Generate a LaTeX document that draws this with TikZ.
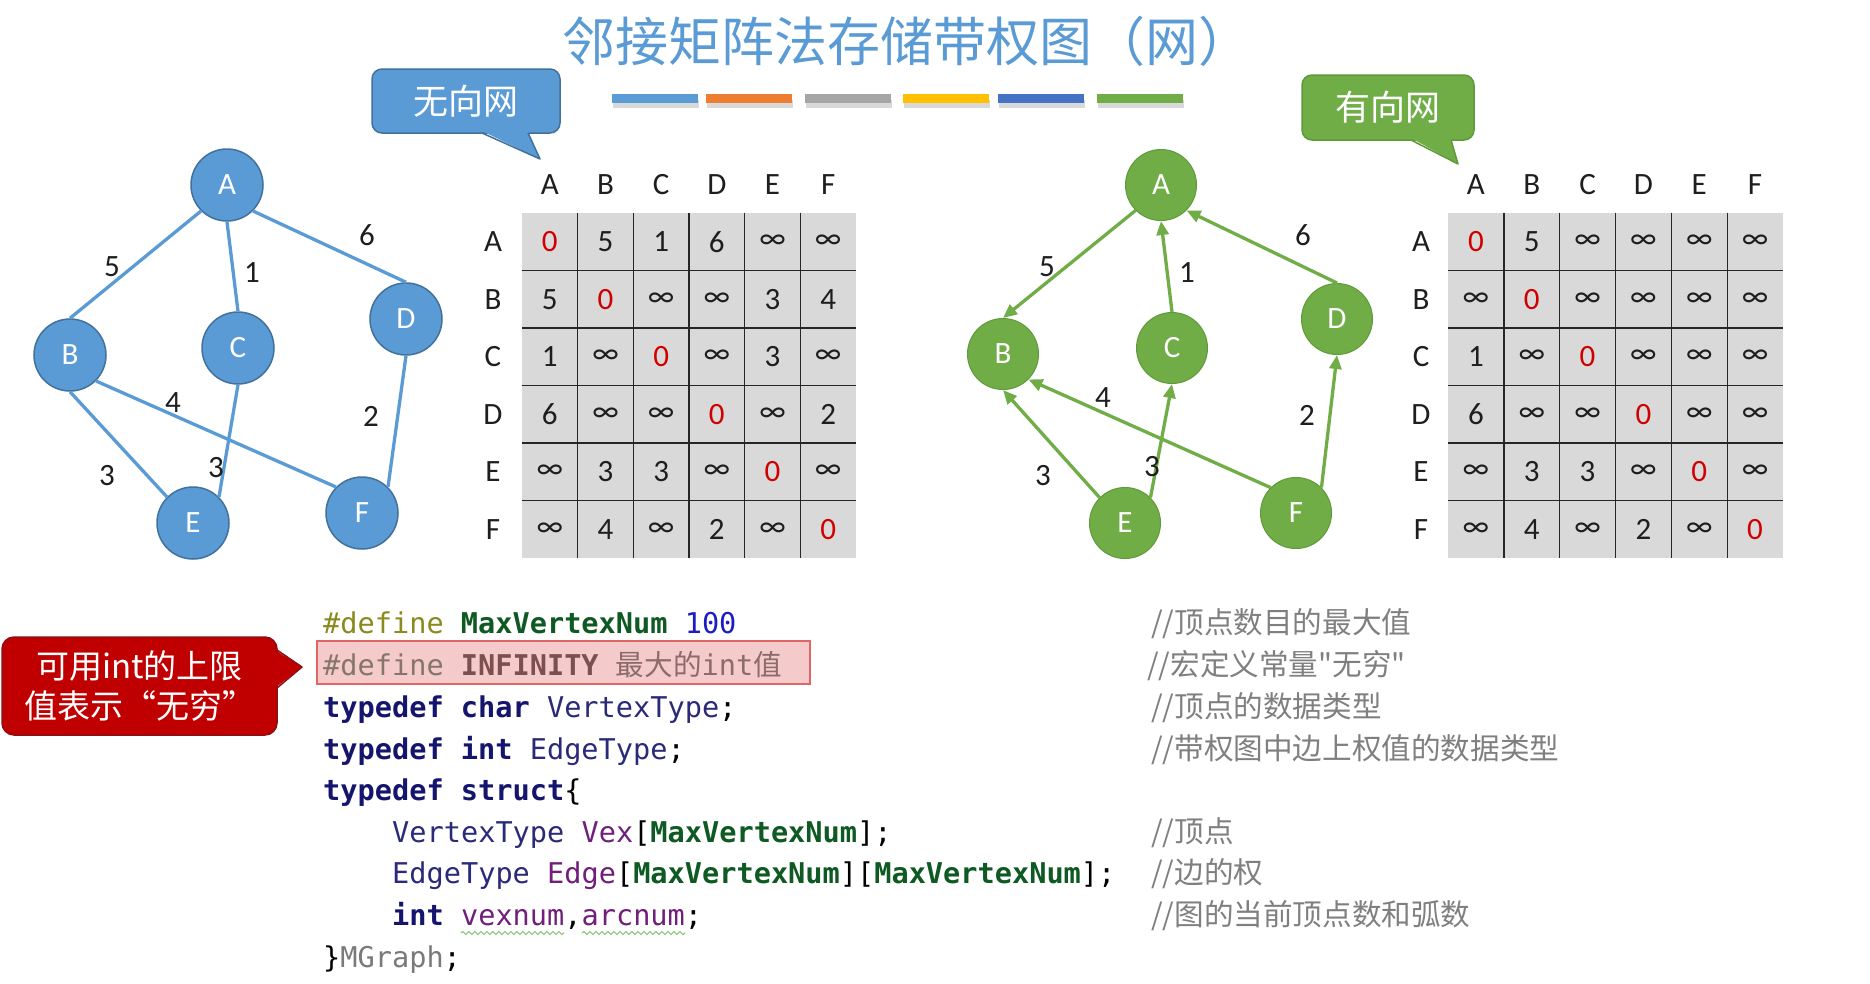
\documentclass[tikz,border=0pt]{standalone}
\usepackage{fontspec}
\setmainfont{Carlito}
\newfontfamily\cjk{Noto Sans CJK SC}
\newfontfamily\monof{DejaVu Sans Mono}
\usetikzlibrary{arrows.meta,decorations.pathmorphing}
\definecolor{titleblue}{HTML}{5B9BD5}
\definecolor{nblue}{HTML}{5B9BD5}
\definecolor{nblueD}{HTML}{41719C}
\definecolor{ngreen}{HTML}{70AD47}
\definecolor{ngreenD}{HTML}{5E9A3A}
\definecolor{calred}{HTML}{C00000}
\definecolor{calredD}{HTML}{8E0E12}
\definecolor{barA}{HTML}{5B9BD5}
\definecolor{barB}{HTML}{ED7D31}
\definecolor{barC}{HTML}{A5A5A5}
\definecolor{barD}{HTML}{FFC000}
\definecolor{barE}{HTML}{4472C4}
\definecolor{barF}{HTML}{70AD47}
\definecolor{cellgray}{HTML}{D9D9D9}
\definecolor{zred}{HTML}{D00000}
\definecolor{cdef}{HTML}{8A8A1E}
\definecolor{cmac}{HTML}{0E5A22}
\definecolor{cnum}{HTML}{1C1CC4}
\definecolor{ckw}{HTML}{15156E}
\definecolor{ctype}{HTML}{2A2A78}
\definecolor{cvar}{HTML}{70207A}
\definecolor{cgray}{HTML}{7A7A7A}
\definecolor{ccmt}{HTML}{7F7F7F}
\definecolor{pinkbox}{HTML}{F4CACA}
\definecolor{redbox}{HTML}{E06666}
\definecolor{dimdef}{HTML}{86766A}
\definecolor{diminf}{HTML}{7D5050}
\definecolor{dimcjk}{HTML}{8C6B6B}
\definecolor{wavyc}{HTML}{8CC87C}
\definecolor{txt}{HTML}{1E1E1E}
\newcommand\zr{\textcolor{zred}{0}}
\newcommand\infy{∞}
\begin{document}
\begin{tikzpicture}[x=1pt,y=-1pt,
  title/.style={inner sep=0pt, text=titleblue, font=\cjk\fontsize{53}{53}\selectfont},
  un/.style={circle, fill=nblue, draw=nblueD, line width=1.5pt, minimum size=72pt, inner sep=0pt, text=white, font=\fontsize{31}{31}\selectfont},
  gn/.style={circle, fill=ngreen, draw=ngreenD, line width=1pt, minimum size=71pt, inner sep=0pt, text=white, font=\fontsize{31}{31}\selectfont},
  ue/.style={draw=nblue, line width=3.3pt},
  de/.style={draw=ngreen, line width=3.3pt, -{Triangle[length=14pt,width=12pt]}},
  elab/.style={inner sep=0pt, text=txt, font=\fontsize{31}{31}\selectfont},
  cell/.style={inner sep=0pt, text=txt, font=\fontsize{31}{31}\selectfont},
  hdr/.style={inner sep=0pt, text=txt, font=\fontsize{31}{31}\selectfont},
  grid/.style={line width=1.3pt, black!85},
  callB/.style={rounded corners=10pt, fill=nblue, draw=nblueD, line width=1.5pt, text=white, font=\cjk\fontsize{35}{35}\selectfont, inner sep=0pt},
  callG/.style={rounded corners=10pt, fill=ngreen, draw=ngreenD, line width=1.5pt, text=white, font=\cjk\fontsize{35}{35}\selectfont, inner sep=0pt},
  callR/.style={rounded corners=12pt, fill=calred, draw=calredD, line width=1.5pt, text=white, font=\cjk\fontsize{33}{40}\selectfont, inner sep=0pt},
  code/.style={anchor=base west, inner sep=0pt, text=black, font=\monof\fontsize{28.6}{28.6}\selectfont},
  cmt/.style={anchor=base west, inner sep=0pt, text=ccmt, font=\cjk\fontsize{29.6}{29.6}\selectfont},
  wavy/.style={draw=wavyc, line width=1.2pt, decorate, decoration={snake, amplitude=1.5pt, segment length=6pt}}
]
\useasboundingbox (0,0) rectangle (1870,983);
\fill[white] (0,0) rectangle (1870,983);

% title
\node[title] (title) at (907,41) {邻接矩阵法存储带权图（网）};

% colour bars
\foreach \xa/\c in {612/barA,706/barB,805/barC,903/barD,998/barE,1097/barF} {
  \fill[black, opacity=0.15] ({\xa+1},100) rectangle ({\xa+87},108);
  \fill[\c] (\xa,94) rectangle ({\xa+86},103);
}

% callouts
\node[callB, minimum width=188pt, minimum height=64pt] (cb) at (466,101) {无向网};
\fill[nblue] (482,131) -- (540,159) -- (528,131) -- cycle;
\draw[nblueD, line width=1.5pt, line join=round] (482,133) -- (540,159) -- (528,133);

\node[callG, minimum width=172pt, minimum height=65pt] (cg) at (1388,107.5) {有向网};
\fill[ngreen] (1411,138) -- (1458,164) -- (1451,138) -- cycle;
\draw[ngreenD, line width=1.5pt, line join=round] (1411,140) -- (1458,164) -- (1451,140);

\node[callR, minimum width=275pt, minimum height=98pt, align=center] (cr) at (139.5,686) {可用int的上限\\值表示“无穷”};
\fill[calred] (275,650) -- (302,667) -- (275,688) -- cycle;
\draw[calredD, line width=1.5pt, line join=round] (277,650) -- (302,667) -- (277,688);

% undirected graph
\node[un] (uA) at (227,185) {A};
\node[un] (uB) at (70,355) {B};
\node[un] (uC) at (238,348) {C};
\node[un] (uD) at (406,319) {D};
\node[un] (uE) at (193,523) {E};
\node[un] (uF) at (362,513) {F};
\draw[ue] (uA.south west) -- (uB.north);
\draw[ue] (uA.south) -- (uC.north);
\draw[ue] (uA.south east) -- (uD.north);
\draw[ue] (uB.south) -- (uE.north west);
\draw[ue] (uB.south east) -- (uF.north west);
\draw[ue] (uC.south) -- (uE.north east);
\draw[ue] (uD.south) -- (uF.north east);
\node[elab] (lu5) at (112,267) {5};
\node[elab] (lu1) at (252,273) {1};
\node[elab] (lu6) at (367,235) {6};
\node[elab] (lu4) at (173,403) {4};
\node[elab] (lu2) at (371,416) {2};
\node[elab] (lu3a) at (107,476) {3};
\node[elab] (lu3b) at (216,468) {3};

% directed graph
\node[gn] (dA) at (1161,185) {A};
\node[gn] (dB) at (1003,354) {B};
\node[gn] (dC) at (1172,348) {C};
\node[gn] (dD) at (1337,319) {D};
\node[gn] (dE) at (1125,523) {E};
\node[gn] (dF) at (1296,513) {F};
\draw[de] (dA.south west) -- (dB.north);
\draw[de] (dC.north) -- (dA.south);
\draw[de] (dD.north) -- (dA.south east);
\draw[de] (dE.north west) -- (dB.south);
\draw[de] (dE.north east) -- (dC.south);
\draw[de] (dF.north west) -- (dB.south east);
\draw[de] (dF.north east) -- (dD.south);
\node[elab] (ld5) at (1047,267) {5};
\node[elab] (ld1) at (1187,273) {1};
\node[elab] (ld6) at (1303,235) {6};
\node[elab] (ld4) at (1103,398) {4};
\node[elab] (ld2) at (1307,415) {2};
\node[elab] (ld3a) at (1043,476) {3};
\node[elab] (ld3b) at (1152,467) {3};

% matrix 1
\fill[cellgray] (522,213) rectangle (856,558);
\foreach \k in {1,...,5} {
  \draw[grid] ({522+\k*55.67},213) -- ({522+\k*55.67},558);
  \draw[grid] (522,{213+\k*57.5}) -- (856,{213+\k*57.5});
}
\foreach \L [count=\j] in {A,B,C,D,E,F} {
  \node[hdr] (mah\j) at ({522+(\j-0.5)*55.67},185) {\L};
  \node[hdr] (mar\j) at (493,{213+(\j-0.5)*57.5}) {\L};
}
\foreach \r [count=\i] in {{\zr,5,1,6,\infy,\infy},{5,\zr,\infy,\infy,3,4},{1,\infy,\zr,\infy,3,\infy},{6,\infy,\infy,\zr,\infy,2},{\infy,3,3,\infy,\zr,\infy},{\infy,4,\infy,2,\infy,\zr}} {
  \foreach \v [count=\j] in \r {
    \node[cell] (ma-\i-\j) at ({522+(\j-0.5)*55.67},{213+(\i-0.5)*57.5}) {\v};
  }
}

% matrix 2
\fill[cellgray] (1448,213) rectangle (1783,558);
\foreach \k in {1,...,5} {
  \draw[grid] ({1448+\k*55.83},213) -- ({1448+\k*55.83},558);
  \draw[grid] (1448,{213+\k*57.5}) -- (1783,{213+\k*57.5});
}
\foreach \L [count=\j] in {A,B,C,D,E,F} {
  \node[hdr] (mbh\j) at ({1448+(\j-0.5)*55.83},185) {\L};
  \node[hdr] (mbr\j) at (1421,{213+(\j-0.5)*57.5}) {\L};
}
\foreach \r [count=\i] in {{\zr,5,\infy,\infy,\infy,\infy},{\infy,\zr,\infy,\infy,\infy,\infy},{1,\infy,\zr,\infy,\infy,\infy},{6,\infy,\infy,\zr,\infy,\infy},{\infy,3,3,\infy,\zr,\infy},{\infy,4,\infy,2,\infy,\zr}} {
  \foreach \v [count=\j] in \r {
    \node[cell] (mb-\i-\j) at ({1448+(\j-0.5)*55.83},{213+(\i-0.5)*57.5}) {\v};
  }
}

% code
\fill[pinkbox] (317,641) rectangle (810,684);
\draw[redbox, line width=1.5pt] (317,641) rectangle (810,684);
\node[code] (c1) at (323,633) {\textcolor{cdef}{\#define} \textcolor{cmac}{\bfseries MaxVertexNum} \textcolor{cnum}{100}};
\node[code] (c2) at (323,675) {\textcolor{dimdef}{\#define} \textcolor{diminf}{\bfseries INFINITY} \textcolor{dimcjk}{{\cjk 最大的}int{\cjk 值}}};
\node[code] (c3) at (323,717) {\textcolor{ckw}{\bfseries typedef char} \textcolor{ctype}{VertexType};};
\node[code] (c4) at (323,759) {\textcolor{ckw}{\bfseries typedef int} \textcolor{ctype}{EdgeType};};
\node[code] (c5) at (323,800) {\textcolor{ckw}{\bfseries typedef struct}\{};
\node[code] (c6) at (392,842) {\textcolor{ctype}{VertexType} \textcolor{cvar}{Vex}[\textcolor{cmac}{\bfseries MaxVertexNum}];};
\node[code] (c7) at (392,883) {\textcolor{ctype}{EdgeType} \textcolor{cvar}{Edge}[\textcolor{cmac}{\bfseries MaxVertexNum}][\textcolor{cmac}{\bfseries MaxVertexNum}];};
\node[code] (c8) at (392,925) {\textcolor{ckw}{\bfseries int} \textcolor{cvar}{vexnum},\textcolor{cvar}{arcnum};};
\node[code] (c9) at (323,967) {\}\textcolor{cgray}{MGraph};};
\draw[wavy] (461,933) -- (564,933);
\draw[wavy] (582,933) -- (685,933);

% comments
\node[cmt] (k1) at (1151,633) {//顶点数目的最大值};
\node[cmt] (k2) at (1147,675) {//宏定义常量"无穷"};
\node[cmt] (k3) at (1151,717) {//顶点的数据类型};
\node[cmt] (k4) at (1151,759) {//带权图中边上权值的数据类型};
\node[cmt] (k5) at (1151,842) {//顶点};
\node[cmt] (k6) at (1151,883) {//边的权};
\node[cmt] (k7) at (1151,925) {//图的当前顶点数和弧数};
\end{tikzpicture}
\end{document}
